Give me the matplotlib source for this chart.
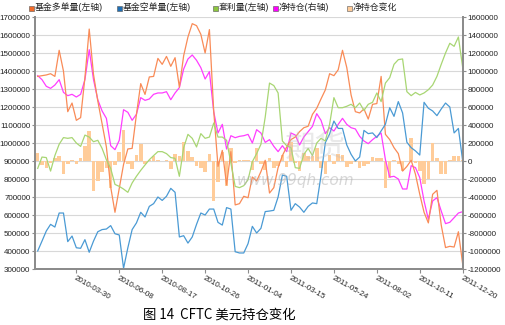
import numpy as np
import pandas as pd
import matplotlib
matplotlib.use('Agg')
import matplotlib.pyplot as plt
from matplotlib.lines import Line2D

plt.rcParams['font.family'] = ['Liberation Sans', 'Noto Sans CJK SC', 'DejaVu Sans']

# weekly CFTC report dates
dates = pd.date_range('2010-01-26', '2011-12-20', freq='7D')

series_names = ['基金多单量(左轴)', '基金空单量(左轴)', '套利量(左轴)', '净持仓(右轴)', '净持仓变化']

# 基金多单量 (left axis)
long_pos = [1370000, 1374000, 1378000, 1385000, 1370000, 1515000, 1400000, 1174000, 1222000, 1126000,
            1141000, 1363000, 1633000, 1381000, 1233000, 1107000, 978000, 756000, 615000, 748000,
            881000, 967000, 970000, 1159000, 1330000, 1270000, 1367000, 1370000, 1470000, 1437000,
            1481000, 1426000, 1474000, 1310000, 1485000, 1589000, 1663000, 1652000, 1604000, 1500000,
            1630000, 1178000, 870000, 959000, 767000, 952000, 656000, 663000, 704000, 696000,
            811000, 789000, 841000, 904000, 722000, 752000, 863000, 930000, 978000, 1019000,
            1033000, 1063000, 1085000, 1093000, 1159000, 1193000, 1245000, 1295000, 1385000, 1374000,
            1407000, 1515000, 1419000, 1267000, 1174000, 1167000, 1189000, 1133000, 1215000, 1219000,
            1370000, 1048000, 1019000, 974000, 941000, 844000, 870000, 904000, 826000, 715000,
            615000, 556000, 715000, 737000, 544000, 419000, 426000, 422000, 507000, 326000]

# 基金空单量 (left axis)
short_pos = [400000, 455000, 511000, 548000, 533000, 611000, 611000, 452000, 483000, 418000,
             415000, 463000, 393000, 455000, 507000, 519000, 522000, 541000, 496000, 489000,
             304000, 418000, 519000, 556000, 615000, 589000, 648000, 663000, 700000, 681000,
             704000, 748000, 726000, 478000, 485000, 444000, 478000, 548000, 611000, 600000,
             633000, 633000, 559000, 544000, 641000, 633000, 396000, 389000, 389000, 441000,
             537000, 500000, 526000, 619000, 622000, 626000, 700000, 822000, 815000, 626000,
             663000, 644000, 615000, 648000, 667000, 663000, 820000, 1002000, 1050000, 1122000,
             1081000, 1081000, 989000, 937000, 900000, 922000, 1070000, 1052000, 1056000, 1030000,
             1067000, 1104000, 1196000, 1148000, 1230000, 1167000, 1004000, 974000, 956000, 933000,
             1226000, 1193000, 1178000, 1152000, 1189000, 1222000, 1200000, 1056000, 1081000, 900000]

# 套利量 (left axis)
spread_pos = [859000, 922000, 919000, 844000, 930000, 993000, 1030000, 1026000, 1030000, 1000000,
              981000, 1044000, 1033000, 1007000, 1015000, 970000, 907000, 859000, 770000, 759000,
              744000, 726000, 778000, 815000, 848000, 878000, 907000, 930000, 952000, 952000,
              941000, 919000, 915000, 815000, 974000, 1048000, 1026000, 978000, 1052000, 1026000,
              1033000, 1111000, 1033000, 1033000, 1015000, 889000, 759000, 752000, 763000, 796000,
              896000, 941000, 993000, 1144000, 1333000, 1319000, 1278000, 1011000, 985000, 974000,
              863000, 859000, 937000, 970000, 930000, 1000000, 1026000, 1011000, 1104000, 1252000,
              1196000, 1196000, 1204000, 1215000, 1196000, 1222000, 1181000, 1215000, 1226000, 1278000,
              1230000, 1333000, 1363000, 1437000, 1463000, 1467000, 1285000, 1263000, 1281000, 1267000,
              1278000, 1296000, 1322000, 1370000, 1437000, 1500000, 1554000, 1537000, 1589000, 1419000]

# 净持仓 (right axis)
net_pos = [948000, 904000, 830000, 807000, 844000, 904000, 763000, 726000, 741000, 711000,
           741000, 904000, 1237000, 904000, 681000, 556000, 474000, 170000, 126000, 230000,
           570000, 541000, 452000, 519000, 704000, 674000, 689000, 741000, 756000, 756000,
           770000, 681000, 756000, 815000, 1022000, 1133000, 1178000, 1119000, 1037000, 911000,
           993000, 548000, 311000, 407000, 133000, 281000, 259000, 274000, 281000, 296000,
           200000, 348000, 311000, 207000, 237000, 163000, 104000, 170000, 104000, 311000,
           289000, 178000, 267000, 326000, 385000, 526000, 452000, 304000, 370000, 333000,
           407000, 474000, 407000, 370000, 356000, 274000, 222000, 193000, 237000, 274000,
           311000, 15000, -178000, -170000, -200000, -311000, -311000, -52000, -74000, -185000,
           -444000, -648000, -444000, -407000, -556000, -696000, -681000, -630000, -578000, -563000]

# 净持仓变化 (right axis)
net_chg = [94000, -44000, -74000, -23000, 37000, 60000, -141000, -37000, 15000, -30000,
           30000, 163000, 333000, -333000, -223000, -125000, -82000, -304000, -44000, 104000,
           340000, -29000, -89000, 67000, 185000, -30000, 15000, 52000, 15000, 0,
           14000, -89000, 75000, 59000, 207000, 111000, 45000, -59000, -82000, -126000,
           82000, -445000, -237000, 96000, -274000, 148000, -22000, 15000, 7000, 15000,
           -96000, 148000, -37000, -104000, 30000, -74000, -59000, 66000, -66000, 207000,
           -22000, -111000, 89000, 59000, 59000, 141000, -74000, -148000, 66000, -37000,
           74000, 67000, -67000, -37000, -14000, -82000, -52000, -29000, 44000, 37000,
           37000, -296000, -193000, 8000, -30000, -111000, 0, 259000, -22000, -111000,
           -259000, -204000, 204000, 37000, -149000, -140000, 15000, 51000, 52000, 15000]

left_ticks = list(range(300000, 1700001, 100000))
right_ticks = list(range(-1200000, 1600001, 200000))
date_ticks = ['2010-03-30', '2010-06-08', '2010-08-17', '2010-10-26', '2011-01-04',
              '2011-03-15', '2011-05-24', '2011-08-02', '2011-10-11', '2011-12-20']

c_long = '#F98B57'
c_short = '#4A9AD4'
c_spread = '#A8D673'
c_net = '#FF3DFF'
c_bar = '#FFCC99'
spine_c = '#8c8c8c'

fig = plt.figure(figsize=(5.05, 3.25), dpi=100)
ax = fig.add_axes([35/505, 1-269/325, 428/505, 252/325])
ax2 = ax.twinx()
# left-axis lines above the bars
ax.set_zorder(ax2.get_zorder() + 1)
ax.patch.set_visible(False)

ax2.bar(dates, net_chg, width=5.8, color=c_bar, zorder=2)
ax2.plot(dates, net_pos, color=c_net, lw=0.9, zorder=3)

ax.plot(dates, long_pos, color=c_long, lw=0.9)
ax.plot(dates, short_pos, color=c_short, lw=0.9)
ax.plot(dates, spread_pos, color=c_spread, lw=0.9)

ax.set_ylim(300000, 1700000)
ax2.set_ylim(-1200000, 1600000)
ax.set_xlim(dates[0] - pd.Timedelta(days=4.4), dates[-1] + pd.Timedelta(days=0.5))

ax.set_yticks(left_ticks, [str(v) for v in left_ticks])
ax2.set_yticks(right_ticks, [str(v) for v in right_ticks])
ax.set_xticks(pd.to_datetime(date_ticks), date_ticks)

ax2.grid(True, color='#d8d8d8', lw=0.8)
ax2.set_axisbelow(True)

for a in (ax, ax2):
    for s in a.spines.values():
        s.set_color(spine_c)
        s.set_linewidth(1.4)
    a.spines['top'].set_visible(False)

ax.tick_params(axis='y', length=2.5, width=0.8, color=spine_c, labelsize=5.8, pad=0.8, labelcolor='#222222')
ax2.tick_params(axis='y', length=2.5, width=0.8, color=spine_c, labelsize=5.8, pad=0.8, labelcolor='#222222')
ax.tick_params(axis='x', length=3, width=0.8, color=spine_c, labelsize=5.8, pad=1, labelcolor='#222222')
for lab in ax.get_xticklabels():
    lab.set_rotation(-30)
    lab.set_ha('left')
    lab.set_va('top')
    lab.set_rotation_mode('anchor')

# legend, placed entry by entry
legend_x = [29, 117, 213, 273, 347]
marker_cols = ['#F26B2A', '#1F6FB5', '#8DC63F', '#FF00FF', '#FFCC99']
ly = 1 - 7.5/325
for x, name, c in zip(legend_x, series_names, marker_cols):
    fig.add_artist(Line2D([(x + 2)/505], [ly], transform=fig.transFigure, ls='none', marker='s',
                          markersize=3.6, markerfacecolor=c, markeredgecolor='#555555',
                          markeredgewidth=0.4))
    fig.text((x + 6)/505, ly, name, fontsize=6.4, ha='left', va='center', color='#222222')

# watermark
fig.text(285/505, 1-148/325, '期货', fontsize=22, color='#c0c0c0', alpha=0.35,
         ha='left', va='center', family=['Noto Sans CJK SC'])
fig.text(237/505, 1-180/325, 'www.99qh.com', fontsize=11, color='#b0b0b0', alpha=0.5,
         style='italic', ha='left', va='center', family=['DejaVu Sans'])

fig.text(143/505, 1-315/325, '图 14  CFTC 美元持仓变化', fontsize=9.6,
         family=['Noto Sans CJK SC'], ha='left', va='center')

fig.savefig('out.png', dpi=100)
